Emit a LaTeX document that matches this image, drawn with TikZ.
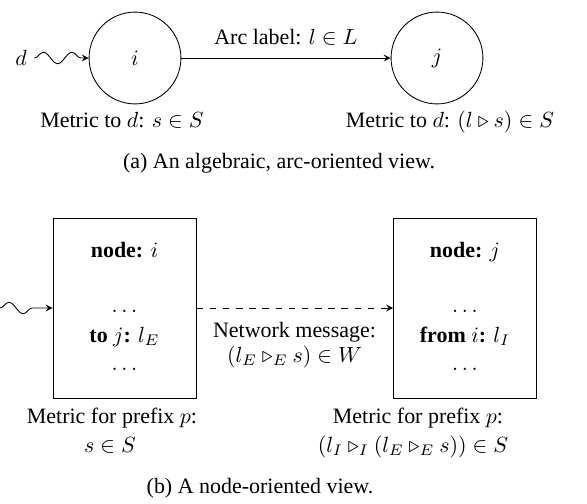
\documentclass[tikz,border=0pt]{standalone}
\usepackage{fontspec}
\setmainfont{Liberation Serif}
\usetikzlibrary{decorations.pathmorphing}

\begin{document}
\begin{tikzpicture}[>=stealth,x=0.016cm,y=-0.016cm,
	vertex/.style={draw,circle,minimum size=1.47cm},
	router/.style={draw,rectangle,minimum width=2.29cm,minimum height=2.88cm},
	wiggle/.style={decorate,decoration={snake,amplitude=2.6pt,segment length=13pt,post length=3pt}}]
		\useasboundingbox (0,0) rectangle (587,504);
		% (a) arc view
		\node[vertex] (i) at (135,58) {$i$};
		\node[vertex] (j) at (437,58) {$j$};
		\node (d) at (21,58) {$d$};
		\draw[->,wiggle] (d) -- (i);
		\draw[->] (i) -- node[above=2pt]{Arc label: $l \in L$} (j);
		\node[anchor=base] (mi) at (122,128) {Metric to $d$: $s \in S$};
		\node[anchor=base] (mj) at (450,128) {Metric to $d$: $(l \triangleright s) \in S$};
		\node[anchor=base] (capa) at (279,168) {(a) An algebraic, arc-oriented view.};
		% (b) node view
		\node[router] (ni) at (124.5,308) {};
		\node[router] (nj) at (465,308) {};
		\coordinate (src) at (0,308);
		\draw[->,wiggle] (src) -- (ni);
		\draw[->,dashed] (ni) -- (nj);
		\node[anchor=base] (ni1) at (124.5,258) {\textbf{node:} $i$};
		\node[anchor=base] (ni2) at (124.5,312) {$\dots$};
		\node[anchor=base] (ni3) at (124.5,342) {\textbf{to} $j$\textbf{:} $l_E$};
		\node[anchor=base] (ni4) at (124.5,370) {$\dots$};
		\node[anchor=base] (nj1) at (465,258) {\textbf{node:} $j$};
		\node[anchor=base] (nj2) at (465,312) {$\dots$};
		\node[anchor=base] (nj3) at (465,342) {\textbf{from} $i$\textbf{:} $l_I$};
		\node[anchor=base] (nj4) at (465,370) {$\dots$};
		\node[anchor=base] (msg1) at (294.5,337) {Network message:};
		\node[anchor=base] (msg2) at (294.5,362) {$(l_E \triangleright_E s) \in W$};
		\node[anchor=base] (pi1) at (112,423) {Metric for prefix $p$:};
		\node[anchor=base] (pi2) at (110,452) {$s \in S$};
		\node[anchor=base] (pj1) at (418,423) {Metric for prefix $p$:};
		\node[anchor=base] (pj2) at (413,452) {$(l_I \triangleright_I (l_E \triangleright_E s)) \in S$};
		\node[anchor=base] (capb) at (260,493) {(b) A node-oriented view.};
\end{tikzpicture}
\end{document}
